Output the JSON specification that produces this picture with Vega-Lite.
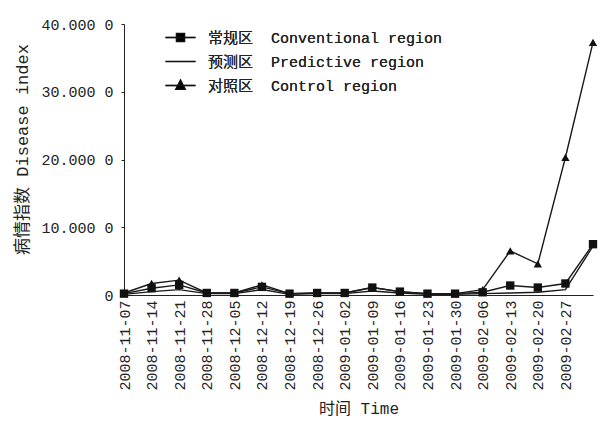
{
  "$schema": "https://vega.github.io/schema/vega-lite/v6.json",
  "width": 469,
  "height": 271,
  "autosize": {"type": "none"},
  "padding": {"left": 124, "top": 24, "right": 22, "bottom": 131},
  "background": "white",
  "config": {
    "view": {"stroke": null},
    "font": "Liberation Mono",
    "axis": {
      "grid": false,
      "domainColor": "#222",
      "tickColor": "#222",
      "labelColor": "#222",
      "titleColor": "#222",
      "labelFont": "Liberation Mono, Noto Sans CJK SC",
      "labelFontSize": 15,
      "titleFont": "Liberation Mono, Noto Sans CJK SC",
      "titleFontSize": 16,
      "titleFontWeight": "normal"
    }
  },
  "data": {
    "values": [
      {"date": "2008-11-07", "series": "常规区 Conventional region", "value": 0.2},
      {"date": "2008-11-14", "series": "常规区 Conventional region", "value": 1.0},
      {"date": "2008-11-21", "series": "常规区 Conventional region", "value": 1.5},
      {"date": "2008-11-28", "series": "常规区 Conventional region", "value": 0.3},
      {"date": "2008-12-05", "series": "常规区 Conventional region", "value": 0.3},
      {"date": "2008-12-12", "series": "常规区 Conventional region", "value": 1.2},
      {"date": "2008-12-19", "series": "常规区 Conventional region", "value": 0.2},
      {"date": "2008-12-26", "series": "常规区 Conventional region", "value": 0.3},
      {"date": "2009-01-02", "series": "常规区 Conventional region", "value": 0.3},
      {"date": "2009-01-09", "series": "常规区 Conventional region", "value": 1.1},
      {"date": "2009-01-16", "series": "常规区 Conventional region", "value": 0.5},
      {"date": "2009-01-23", "series": "常规区 Conventional region", "value": 0.2},
      {"date": "2009-01-30", "series": "常规区 Conventional region", "value": 0.2},
      {"date": "2009-02-06", "series": "常规区 Conventional region", "value": 0.4},
      {"date": "2009-02-13", "series": "常规区 Conventional region", "value": 1.4},
      {"date": "2009-02-20", "series": "常规区 Conventional region", "value": 1.1},
      {"date": "2009-02-27", "series": "常规区 Conventional region", "value": 1.7},
      {"date": "2009-03-06", "series": "常规区 Conventional region", "value": 7.5},
      {"date": "2008-11-07", "series": "预测区 Predictive region", "value": 0.1},
      {"date": "2008-11-14", "series": "预测区 Predictive region", "value": 0.5},
      {"date": "2008-11-21", "series": "预测区 Predictive region", "value": 0.8},
      {"date": "2008-11-28", "series": "预测区 Predictive region", "value": 0.2},
      {"date": "2008-12-05", "series": "预测区 Predictive region", "value": 0.2},
      {"date": "2008-12-12", "series": "预测区 Predictive region", "value": 0.8},
      {"date": "2008-12-19", "series": "预测区 Predictive region", "value": 0.1},
      {"date": "2008-12-26", "series": "预测区 Predictive region", "value": 0.2},
      {"date": "2009-01-02", "series": "预测区 Predictive region", "value": 0.2},
      {"date": "2009-01-09", "series": "预测区 Predictive region", "value": 0.6},
      {"date": "2009-01-16", "series": "预测区 Predictive region", "value": 0.3},
      {"date": "2009-01-23", "series": "预测区 Predictive region", "value": 0.1},
      {"date": "2009-01-30", "series": "预测区 Predictive region", "value": 0.1},
      {"date": "2009-02-06", "series": "预测区 Predictive region", "value": 0.2},
      {"date": "2009-02-13", "series": "预测区 Predictive region", "value": 0.3},
      {"date": "2009-02-20", "series": "预测区 Predictive region", "value": 0.4},
      {"date": "2009-02-27", "series": "预测区 Predictive region", "value": 0.8},
      {"date": "2009-03-06", "series": "预测区 Predictive region", "value": 7.2},
      {"date": "2008-11-07", "series": "对照区 Control region", "value": 0.3},
      {"date": "2008-11-14", "series": "对照区 Control region", "value": 1.7},
      {"date": "2008-11-21", "series": "对照区 Control region", "value": 2.2},
      {"date": "2008-11-28", "series": "对照区 Control region", "value": 0.3},
      {"date": "2008-12-05", "series": "对照区 Control region", "value": 0.3},
      {"date": "2008-12-12", "series": "对照区 Control region", "value": 1.5},
      {"date": "2008-12-19", "series": "对照区 Control region", "value": 0.2},
      {"date": "2008-12-26", "series": "对照区 Control region", "value": 0.3},
      {"date": "2009-01-02", "series": "对照区 Control region", "value": 0.3},
      {"date": "2009-01-09", "series": "对照区 Control region", "value": 1.1},
      {"date": "2009-01-16", "series": "对照区 Control region", "value": 0.5},
      {"date": "2009-01-23", "series": "对照区 Control region", "value": 0.2},
      {"date": "2009-01-30", "series": "对照区 Control region", "value": 0.2},
      {"date": "2009-02-06", "series": "对照区 Control region", "value": 0.8},
      {"date": "2009-02-13", "series": "对照区 Control region", "value": 6.5},
      {"date": "2009-02-20", "series": "对照区 Control region", "value": 4.6},
      {"date": "2009-02-27", "series": "对照区 Control region", "value": 20.3},
      {"date": "2009-03-06", "series": "对照区 Control region", "value": 37.3}
    ]
  },
  "encoding": {
    "x": {
      "field": "date",
      "type": "ordinal",
      "scale": {"type": "point", "padding": 0},
      "axis": {
        "title": "时间 Time",
        "labelAngle": -90,
        "ticks": false,
        "labelPadding": 5,
        "titlePadding": 10,
        "labelExpr": "datum.value == '2009-03-06' ? '' : datum.value"
      }
    },
    "y": {
      "field": "value",
      "type": "quantitative",
      "scale": {"domain": [0, 40], "nice": false},
      "axis": {
        "title": "病情指数 Disease index",
        "titleFontSize": 17,
        "titleY": 125,
        "titleAlign": "center",
        "values": [0, 10, 20, 30, 40],
        "tickSize": 3,
        "labelPadding": 8,
        "titlePadding": 9,
        "labelExpr": "datum.value == 0 ? '0' : format(datum.value, '.3f') + ' 0'"
      }
    }
  },
  "layer": [
    {
      "mark": {"type": "line", "color": "#1a1a1a", "strokeWidth": 1.4},
      "encoding": {"detail": {"field": "series"}}
    },
    {
      "mark": {"type": "point", "filled": true, "color": "#111", "opacity": 1, "size": 70},
      "encoding": {
        "shape": {
          "field": "series",
          "type": "nominal",
          "scale": {
            "domain": ["常规区 Conventional region", "预测区 Predictive region", "对照区 Control region"],
            "range": ["square", "M0,0", "triangle-up"]
          },
          "legend": null
        }
      }
    },
    {
      "transform": [{"filter": "datum.date == 'none'"}],
      "mark": {"type": "point", "filled": true, "color": "#111", "stroke": "#111", "strokeWidth": 1.3, "opacity": 1},
      "encoding": {
        "color": {
          "field": "series",
          "type": "nominal",
          "scale": {
            "domain": ["常规区 Conventional region", "预测区 Predictive region", "对照区 Control region"],
            "range": ["#111", "#111", "#111"]
          },
          "legend": {
            "title": null,
            "orient": "none",
            "legendX": 48,
            "legendY": 5,
            "padding": 0,
            "symbolSize": 225,
            "symbolType": "M-2,0L2,0",
            "symbolStrokeWidth": 1.3,
            "labelOffset": 19,
            "rowPadding": 7,
            "labelFont": "Liberation Mono, Noto Sans CJK SC",
            "labelFontSize": 15,
            "labelColor": "#222",
            "labelLimit": 400,
            "labelExpr": "replace(datum.label, ' ', '\u00a0 ')",
            "symbolOpacity": 1
          }
        },
        "shape": {
          "field": "series",
          "type": "nominal",
          "scale": {
            "domain": ["常规区 Conventional region", "预测区 Predictive region", "对照区 Control region"],
            "range": ["M-2,0L2,0M-0.55,-0.55L0.55,-0.55L0.55,0.55L-0.55,0.55Z", "M-2,0L2,0", "M-2,0L2,0M0,-0.75L0.65,0.5L-0.65,0.5Z"]
          },
          "legend": {
            "title": null,
            "orient": "none",
            "legendX": 48,
            "legendY": 5,
            "padding": 0,
            "symbolSize": 225,
            "symbolStrokeWidth": 1.3,
            "labelOffset": 19,
            "rowPadding": 7,
            "labelFont": "Liberation Mono, Noto Sans CJK SC",
            "labelFontSize": 15,
            "labelColor": "#222",
            "labelLimit": 400,
            "labelExpr": "replace(datum.label, ' ', '\u00a0 ')",
            "symbolOpacity": 1
          }
        }
      }
    }
  ],
  "resolve": {"scale": {"shape": "independent"}, "legend": {"shape": "independent"}}
}
